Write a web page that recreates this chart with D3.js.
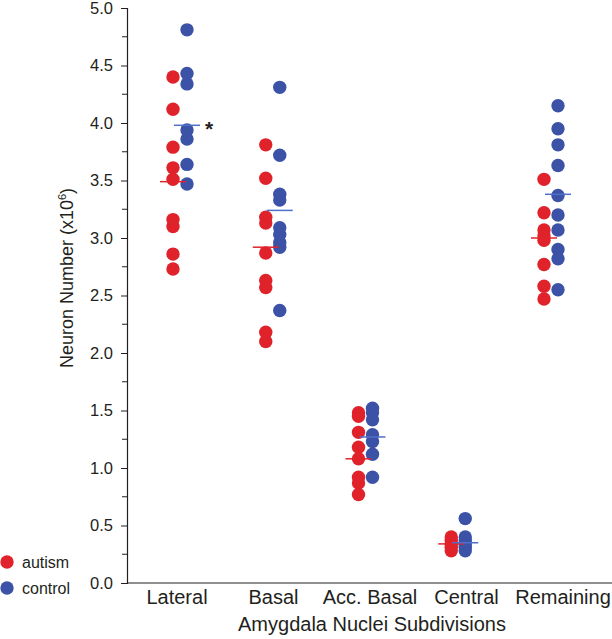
<!DOCTYPE html>
<html>
<head>
<meta charset="utf-8">
<script src="https://cdn.jsdelivr.net/npm/d3@7"></script>
<style>
  body { margin: 0; background: #fff; }
  text { font-family: "Liberation Sans", Arial, sans-serif; fill: #231f20; }
</style>
</head>
<body>
<div id="chart"></div>
<script>
var categories = ["Lateral", "Basal", "Acc. Basal", "Central", "Remaining"];

// neuron number (x10^6), one list per subdivision
var autism = [
  [4.40, 4.12, 3.79, 3.61, 3.51, 3.16, 3.10, 2.86, 2.73],
  [3.81, 3.52, 3.18, 3.13, 2.87, 2.63, 2.57, 2.18, 2.10],
  [1.48, 1.45, 1.31, 1.18, 1.08, 0.92, 0.87, 0.77],
  [0.40, 0.37, 0.34, 0.31, 0.28],
  [3.51, 3.22, 3.07, 3.02, 2.98, 2.77, 2.58, 2.47]
];
var control = [
  [4.81, 4.43, 4.34, 3.94, 3.86, 3.64, 3.47],
  [4.31, 3.72, 3.38, 3.33, 3.09, 3.03, 2.96, 2.92, 2.37],
  [1.52, 1.48, 1.42, 1.29, 1.23, 1.12, 0.92],
  [0.56, 0.40, 0.37, 0.34, 0.31, 0.28],
  [4.15, 3.95, 3.81, 3.63, 3.37, 3.20, 3.07, 2.90, 2.82, 2.55]
];
var autismMean = [3.49, 2.92, 1.08, 0.34, 3.00];
var controlMean = [3.98, 3.24, 1.27, 0.35, 3.38];
var significant = ["Lateral"];
var yTicks = [0, 0.5, 1, 1.5, 2, 2.5, 3, 3.5, 4, 4.5, 5];

var width = 612, height = 639;
var red = "#e0232b", blue = "#3b52a7", blueLine = "#4f6fc8";

var svg = d3.select("#chart").append("svg")
  .attr("width", width)
  .attr("height", height);

var y = d3.scaleLinear().domain([0, 5]).range([583, 8]);
var x = d3.scalePoint().domain(categories).range([180, 551]);
var xLabel = d3.scalePoint().domain(categories).range([177, 563]);
var off = 7, r = 6.7, half = 13;

// y axis
var yAxis = d3.axisLeft(y).tickValues(yTicks).tickFormat(d3.format(".1f")).tickSize(6).tickPadding(8);
var gy = svg.append("g").attr("transform", "translate(127,0)").call(yAxis);
gy.select(".domain").attr("stroke", "#231f20").attr("stroke-width", 1.2);
gy.selectAll(".tick line").attr("stroke", "#231f20");
gy.selectAll(".tick text").attr("font-size", 16.5).attr("font-family", "Liberation Sans, Arial, sans-serif").attr("fill", "#231f20");
// minor ticks
svg.append("g").selectAll("line")
  .data(d3.range(0.25, 5, 0.5))
  .enter().append("line")
  .attr("x1", 122).attr("x2", 127)
  .attr("y1", d => y(d)).attr("y2", d => y(d))
  .attr("stroke", "#231f20");

// x axis
svg.append("line")
  .attr("x1", 127).attr("x2", 612)
  .attr("y1", y(0)).attr("y2", y(0))
  .attr("stroke", "#231f20").attr("stroke-width", 1.2);

svg.append("g").selectAll("text")
  .data(categories)
  .enter().append("text")
  .attr("x", d => xLabel(d))
  .attr("y", 604)
  .attr("text-anchor", "middle")
  .attr("font-size", 20)
  .text(d => d);

svg.append("text")
  .attr("x", 372).attr("y", 631)
  .attr("text-anchor", "middle")
  .attr("font-size", 20)
  .text("Amygdala Nuclei Subdivisions");

var yt = svg.append("text")
  .attr("transform", "translate(73,278) rotate(-90)")
  .attr("text-anchor", "middle")
  .attr("font-size", 18);
yt.append("tspan").text("Neuron Number (x10");
yt.append("tspan").attr("font-size", 11).attr("dy", -7).text("6");
yt.append("tspan").attr("dy", 7).text(")");

// points
function flat(groups) {
  var out = [];
  groups.forEach(function(vals, i) {
    vals.forEach(function(v) { out.push({ cat: categories[i], v: v }); });
  });
  return out;
}

svg.append("g").selectAll("circle")
  .data(flat(autism))
  .enter().append("circle")
  .attr("cx", d => x(d.cat) - off)
  .attr("cy", d => y(d.v))
  .attr("r", r)
  .attr("fill", red);

svg.append("g").selectAll("circle")
  .data(flat(control))
  .enter().append("circle")
  .attr("cx", d => x(d.cat) + off)
  .attr("cy", d => y(d.v))
  .attr("r", r)
  .attr("fill", blue);

// mean lines
svg.append("g").selectAll("line")
  .data(autismMean)
  .enter().append("line")
  .attr("x1", (d, i) => x(categories[i]) - off - half)
  .attr("x2", (d, i) => x(categories[i]) - off + half)
  .attr("y1", d => y(d)).attr("y2", d => y(d))
  .attr("stroke", red).attr("stroke-width", 1.5);

svg.append("g").selectAll("line")
  .data(controlMean)
  .enter().append("line")
  .attr("x1", (d, i) => x(categories[i]) + off - half)
  .attr("x2", (d, i) => x(categories[i]) + off + half)
  .attr("y1", d => y(d)).attr("y2", d => y(d))
  .attr("stroke", blueLine).attr("stroke-width", 1.5);

// significance
svg.append("g").selectAll("text")
  .data(significant)
  .enter().append("text")
  .attr("x", d => x(d) + off + half + 5)
  .attr("y", d => y(controlMean[categories.indexOf(d)]) + 11)
  .attr("font-size", 21)
  .attr("font-weight", "bold")
  .text("*");

// legend
var legend = svg.append("g").selectAll("g")
  .data([["autism", red], ["control", blue]])
  .enter().append("g")
  .attr("transform", (d, i) => "translate(7," + (562 + i * 26) + ")");
legend.append("circle").attr("r", 6.7).attr("fill", d => d[1]);
legend.append("text").attr("x", 15).attr("y", 5.5).attr("font-size", 16).text(d => d[0]);
</script>
</body>
</html>
